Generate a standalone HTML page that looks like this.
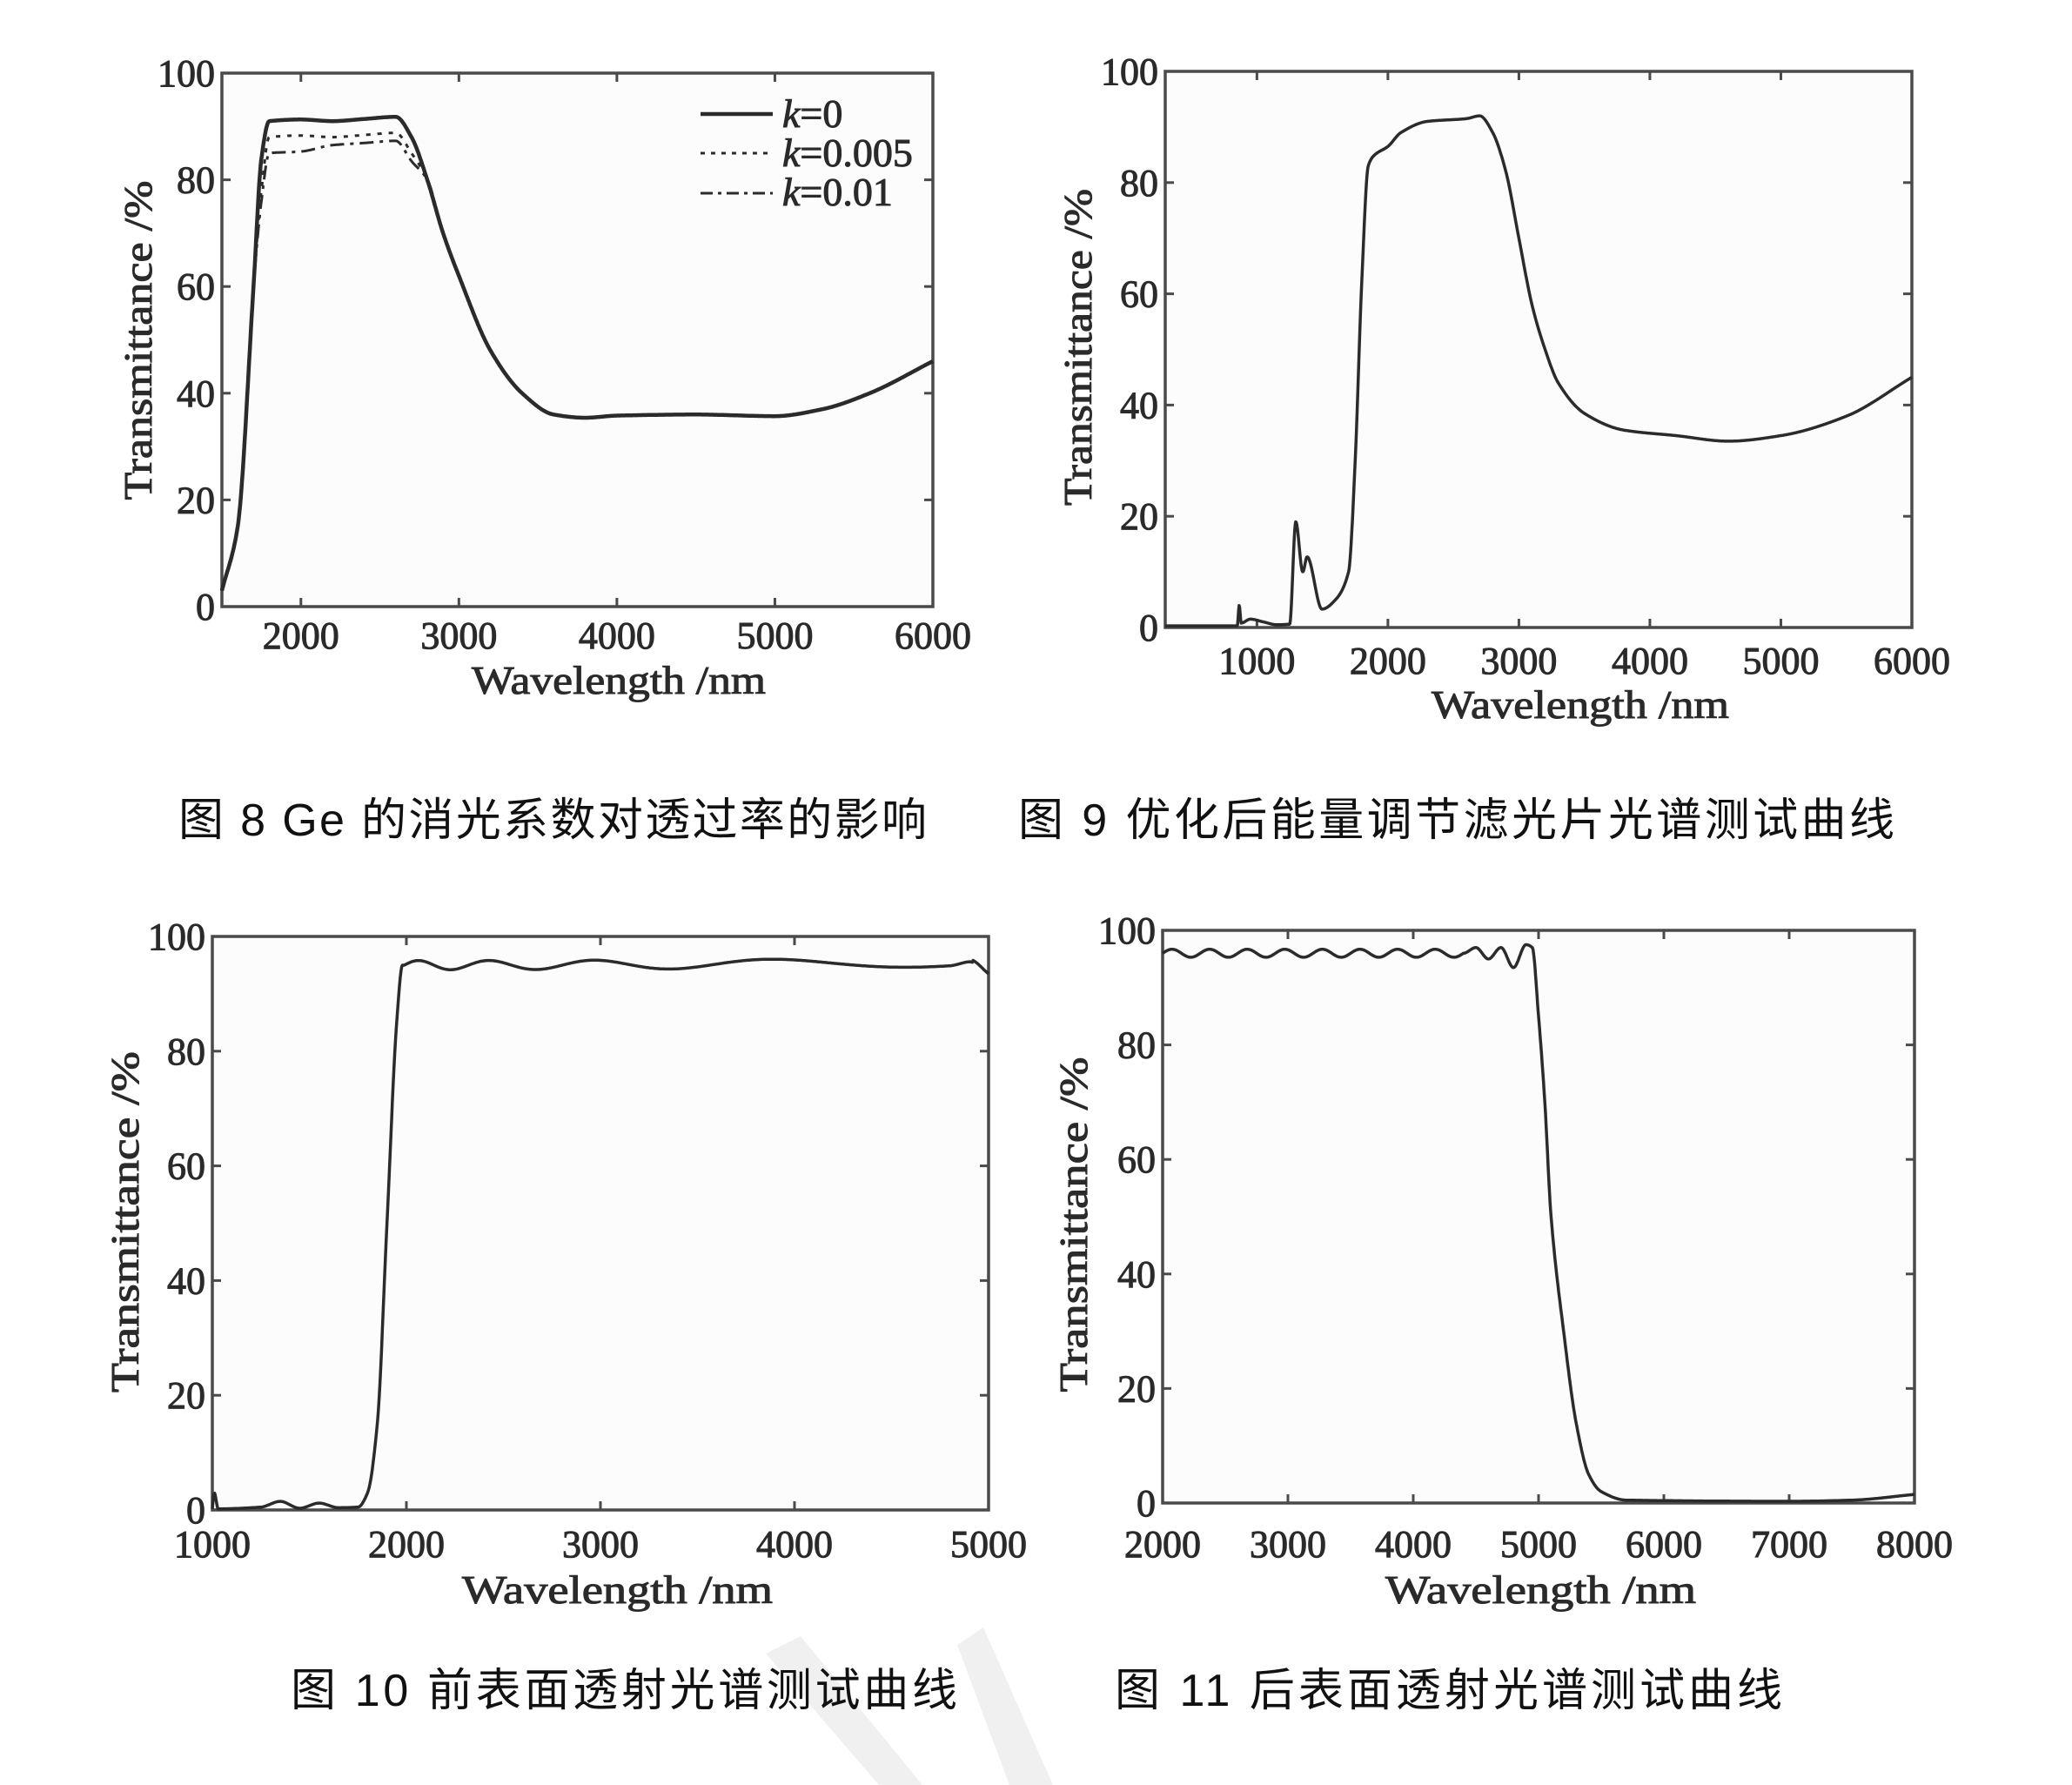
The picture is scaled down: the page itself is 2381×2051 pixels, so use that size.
<!DOCTYPE html>
<html><head><meta charset="utf-8"><style>
html,body{margin:0;padding:0;background:#fff;}
svg{display:block;}
.t{font-family:"Liberation Serif",serif;fill:#2a2a2a;stroke:#2a2a2a;stroke-width:1;}
.c{font-family:"Liberation Sans","Noto Sans CJK SC",sans-serif;fill:#111;}
</style></head><body>
<svg id="s" width="2381" height="2051" viewBox="0 0 2381 2051" xmlns="http://www.w3.org/2000/svg">
<rect width="2381" height="2051" fill="#fff"/>
<g fill="#f0f0f0">
<polygon points="1010,2051 1060,2051 920,1880 880,1900"/>
<polygon points="1160,2051 1210,2051 1130,1870 1100,1890"/>
</g>
<g id="g"></g>
<text class="c" x="205" y="960" font-size="52" textLength="860">图 8 Ge 的消光系数对透过率的影响</text>
<text class="c" x="1170" y="960" font-size="52" textLength="1007">图 9  优化后能量调节滤光片光谱测试曲线</text>
<text class="c" x="334" y="1960" font-size="52" textLength="766">图 10  前表面透射光谱测试曲线</text>
<text class="c" x="1281" y="1960" font-size="52" textLength="767">图 11  后表面透射光谱测试曲线</text>
</svg>
<script>
var NS="http://www.w3.org/2000/svg",G=document.getElementById('g');
function el(t,a,txt){var e=document.createElementNS(NS,t);for(var k in a)e.setAttribute(k,a[k]);if(txt!=null)e.textContent=txt;G.appendChild(e);return e;}
function interp(p,w){var n=p.length;if(w<=p[0][0])return p[0][1];if(w>=p[n-1][0])return p[n-1][1];
 var i=1;while(p[i][0]<w)i++;
 function sl(j){return (p[j+1][1]-p[j][1])/(p[j+1][0]-p[j][0]);}
 function tan(j){if(j==0)return sl(0);if(j==n-1)return sl(n-2);var a=sl(j-1),b=sl(j);if(a*b<=0)return 0;return 2/(1/a+1/b);}
 var x0=p[i-1][0],x1=p[i][0],h=x1-x0,t=(w-x0)/h,y0=p[i-1][1],y1=p[i][1],m0=tan(i-1)*h,m1=tan(i)*h;
 var t2=t*t,t3=t2*t;return (2*t3-3*t2+1)*y0+(t3-2*t2+t)*m0+(-2*t3+3*t2)*y1+(t3-t2)*m1;}
function chart(o){
 var L=o.L,R=o.R,T=o.T,B=o.B;
 var X=function(w){return L+(w-o.x0)/(o.x1-o.x0)*(R-L);},Y=function(v){return B-v/100*(B-T);};
 el('rect',{x:L,y:T,width:R-L,height:B-T,fill:'#fcfcfc',stroke:'#4a4a4a','stroke-width':3.5});
 o.xt.forEach(function(w){var x=X(w);el('line',{x1:x,y1:B,x2:x,y2:B-10,stroke:'#4a4a4a','stroke-width':3});el('line',{x1:x,y1:T,x2:x,y2:T+10,stroke:'#4a4a4a','stroke-width':3});el('text',{class:'t',x:x,y:o.xly,'font-size':44,'text-anchor':'middle'},String(w));});
 [0,20,40,60,80,100].forEach(function(v){var y=Y(v);el('line',{x1:L,y1:y,x2:L+10,y2:y,stroke:'#4a4a4a','stroke-width':3});el('line',{x1:R,y1:y,x2:R-10,y2:y,stroke:'#4a4a4a','stroke-width':3});el('text',{class:'t',x:L-8,y:y+15,'font-size':44,'text-anchor':'end'},String(v));});
 el('text',{class:'t',x:o.xtx,y:o.xty,'font-size':46,textLength:o.xtw,lengthAdjust:'spacingAndGlyphs'},'Wavelength /nm');
 el('text',{class:'t',x:0,y:0,'font-size':46,'text-anchor':'middle',textLength:o.ytl,lengthAdjust:'spacingAndGlyphs',transform:'translate('+o.ytx+','+o.yty+') rotate(-90)'},'Transmittance /%');
 o.series.forEach(function(s){var d='';for(var w=o.x0;w<=o.x1;w+=4){var v=interp(s.p,w)+(s.f?s.f(w):0);d+=(d?'L':'M')+X(w).toFixed(1)+','+Y(v).toFixed(1);}
  var a={d:d,fill:'none',stroke:'#2b2b2b','stroke-width':s.sw||3.5,'stroke-linejoin':'round'};if(s.da)a['stroke-dasharray']=s.da;el('path',a);});
 return {X:X,Y:Y};
}
var base=[[1500,3],[1600,15],[1700,60],[1750,84],[1800,91],[2000,91.3],[2200,91],[2400,91.4],[2600,91.8],[2700,88],[2800,80],[2900,70],[3000,62],[3200,48],[3400,40],[3600,36],[3800,35.4],[4000,35.8],[4500,36],[5000,35.7],[5300,37],[5600,40],[6000,46]];
function mod(p,lv){return p.map(function(q){var v=q[1];if(q[0]>=1750&&q[0]<=2700){v=v-lv(q[0]);}return [q[0],v];});}
chart({L:255,R:1072,T:84,B:697,x0:1500,x1:6000,xt:[2000,3000,4000,5000,6000],xly:745,xtx:542,xty:797,xtw:338,ytx:174,yty:391,ytl:367,
 series:[{p:base,sw:4.5},{p:mod(base,function(w){return w<1800?6:3;}),da:'5,8',sw:3},{p:mod(base,function(w){return w<1800?8:(w<2100?6:4.5);}),da:'16,7,4,7',sw:3}]});
el('line',{x1:805,y1:131,x2:888,y2:131,stroke:'#2b2b2b','stroke-width':4.5});
el('line',{x1:805,y1:176,x2:888,y2:176,stroke:'#2b2b2b','stroke-width':3,'stroke-dasharray':'5,7'});
el('line',{x1:805,y1:222,x2:888,y2:222,stroke:'#2b2b2b','stroke-width':3,'stroke-dasharray':'14,6,4,6'});
[['k=0',146],['k=0.005',191],['k=0.01',236]].forEach(function(a){var t=el('text',{class:'t',x:899,y:a[1],'font-size':46});var i=document.createElementNS(NS,'tspan');i.setAttribute('font-style','italic');i.textContent='k';t.appendChild(i);t.appendChild(document.createTextNode(a[0].slice(1)));});
chart({L:1339,R:2197,T:82,B:721,x0:300,x1:6000,xt:[1000,2000,3000,4000,5000,6000],xly:774,xtx:1645,xty:825,xtw:342,ytx:1254,yty:399,ytl:364,
 series:[{p:[[300,0.3],[850,0.3],[865,4],[880,0.8],[950,1.5],[1050,1],[1150,0.5],[1250,0.6],[1297,19],[1350,10],[1383,12.7],[1497,3.3],[1600,5],[1700,10],[1750,30],[1800,62],[1850,83],[1900,85],[2000,86.5],[2100,89],[2300,91],[2600,91.5],[2700,92],[2800,89],[2900,82],[3000,70],[3100,58],[3200,50],[3300,44],[3500,38.5],[3800,35.5],[4200,34.5],[4600,33.5],[5000,34.5],[5500,38],[6000,45]]}]});
chart({L:244,R:1136,T:1076,B:1735,x0:1000,x1:5000,xt:[1000,2000,3000,4000,5000],xly:1789,xtx:531,xty:1842,xtw:357,ytx:159,yty:1404,ytl:392,
 series:[{p:[[1000,0.2],[1010,3],[1030,0.2],[1250,0.5],[1350,1.5],[1450,0.3],[1550,1.2],[1650,0.4],[1750,0.5],[1800,3],[1850,15],[1900,50],[1950,85],[1980,95],[2000,95],[4800,95.5],[4900,96],[5000,93.5]],f:function(w){return w>1990&&w<4920?0.8*Math.sin((w-1990)/(140+(w-2000)*0.08)*Math.PI*1.0):0;}}]});
chart({L:1336,R:2200,T:1069,B:1727,x0:2000,x1:8000,xt:[2000,3000,4000,5000,6000,7000,8000],xly:1789,xtx:1592,xty:1842,xtw:357,ytx:1249,yty:1407,ytl:385,
 series:[{p:[[2000,96],[4400,96],[4500,97],[4600,95],[4700,97],[4800,93.5],[4900,97.5],[4950,97],[5000,85],[5050,70],[5100,50],[5200,30],[5300,14],[5400,5],[5500,2],[5700,0.5],[7000,0.3],[7500,0.5],[8000,1.5]],f:function(w){return w<4400?0.7*Math.sin((w-2000)/150*Math.PI):0;}}]});
</script>
</body></html>
